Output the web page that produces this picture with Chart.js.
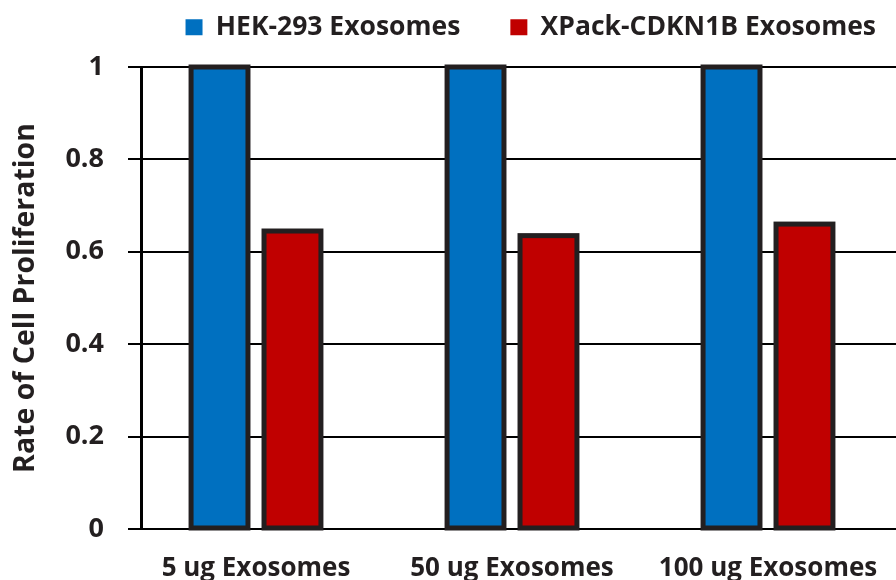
<!DOCTYPE html>
<html>
<head>
<meta charset="utf-8">
<script src="https://cdn.jsdelivr.net/npm/chart.js@4"></script>
<style>
html,body{margin:0;padding:0;background:#fff;}
#wrap{width:896px;height:580px;}
</style>
</head>
<body>
<div id="wrap"><canvas id="c" width="896" height="580"></canvas></div>
<script>
const categories = ['5 ug Exosomes', '50 ug Exosomes', '100 ug Exosomes'];
const seriesNames = ['HEK-293 Exosomes', 'XPack-CDKN1B Exosomes'];
const hekValues = [1.0, 1.0, 1.0];
const xpackValues = [0.645, 0.635, 0.66];
const yTickValues = [0, 0.2, 0.4, 0.6, 0.8, 1];
const yTickLabels = ['0', '0.2', '0.4', '0.6', '0.8', '1'];
const yTitle = 'Rate of Cell Proliferation';

const INK = '#231F20';
const FONT = '"Open Sans", sans-serif';

const outlinePlugin = {
  id: 'barOutline',
  afterDatasetsDraw(chart) {
    const {ctx, chartArea} = chart;
    ctx.save();
    ctx.strokeStyle = INK;
    ctx.lineWidth = 5;
    ctx.lineJoin = 'miter';
    chart.data.datasets.forEach((ds, di) => {
      const meta = chart.getDatasetMeta(di);
      meta.data.forEach(bar => {
        const p = bar.getProps(['x', 'y', 'base', 'width'], true);
        const left = p.x - p.width / 2;
        const top = Math.min(p.y, p.base);
        const h = Math.abs(p.base - p.y);
        ctx.strokeRect(left, top, p.width, h);
      });
    });
    // vertical axis line
    ctx.strokeStyle = '#000';
    ctx.lineWidth = 3;
    ctx.beginPath();
    ctx.moveTo(chartArea.left + 13.5, chartArea.top - 1);
    ctx.lineTo(chartArea.left + 13.5, chartArea.bottom + 1);
    ctx.stroke();
    ctx.restore();
  },
  afterLayout(chart) {
    chart.legend.left += 30;
    chart.legend.right += 30;
  }
};

const legendHeightPlugin = {
  id: 'legendHeight',
  beforeInit(chart) {
    const origFit = chart.legend.fit;
    chart.legend.fit = function () {
      origFit.call(this);
      this.height = 103;
    };
  }
};

new Chart(document.getElementById('c'), {
  type: 'bar',
  data: {
    labels: categories,
    datasets: [
      { label: seriesNames[0], data: hekValues, backgroundColor: '#0070C0' },
      { label: seriesNames[1], data: xpackValues, backgroundColor: '#C00000' }
    ]
  },
  plugins: [legendHeightPlugin, outlinePlugin],
  options: {
    responsive: false,
    animation: false,
    layout: { padding: { top: -36, left: 0, right: 0, bottom: 0 } },
    datasets: {
      bar: {
        borderWidth: 0,
        categoryPercentage: 0.57,
        barPercentage: 0.78
      }
    },
    plugins: {
      tooltip: { enabled: false },
      legend: {
        position: 'top',
        align: 'end',
        labels: {
          color: INK,
          font: { family: FONT, size: 26.5, weight: 'bold' },
          boxWidth: 17,
          boxHeight: 16,
          padding: 50,
          generateLabels(chart) {
            const items = Chart.defaults.plugins.legend.labels.generateLabels(chart);
            items.forEach(i => { i.lineWidth = 0; i.strokeStyle = 'rgba(0,0,0,0)'; });
            return items;
          }
        }
      }
    },
    scales: {
      x: {
        grid: { display: false },
        border: { display: false },
        ticks: {
          color: INK,
          padding: 16,
          maxRotation: 0,
          autoSkip: false,
          font: { family: FONT, size: 26, weight: 'bold' }
        },
        afterFit(scale) { scale.height = 51; scale.paddingLeft = 0; scale.paddingRight = 0; }
      },
      y: {
        min: 0,
        max: 1,
        afterBuildTicks(scale) {
          scale.ticks = yTickValues.map(v => ({ value: v }));
        },
        grid: { color: '#000', lineWidth: 2, drawTicks: false },
        border: { display: false },
        ticks: {
          color: INK,
          padding: 24,
          font: { family: FONT, size: 27, weight: 'bold' },
          callback(value) {
            const i = yTickValues.findIndex(v => Math.abs(v - value) < 1e-9);
            return i >= 0 ? yTickLabels[i] : '';
          }
        },
        title: {
          display: true,
          text: yTitle,
          color: INK,
          padding: { top: 9, bottom: 0 },
          font: { family: FONT, size: 28.5, weight: 'bold' }
        },
        afterFit(scale) { scale.width = 128; }
      }
    }
  }
});
</script>
</body>
</html>
